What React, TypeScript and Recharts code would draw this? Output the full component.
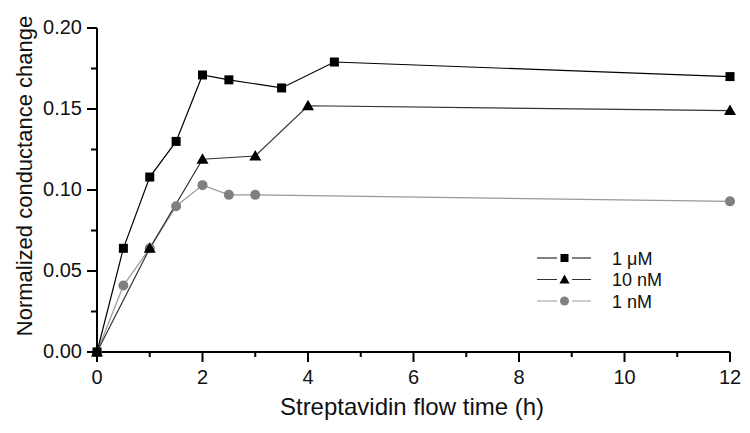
import { LineChart, Line, XAxis, YAxis } from 'recharts';

const uM1 = [
  { t: 0, v: 0 }, { t: 0.5, v: 0.064 }, { t: 1, v: 0.108 }, { t: 1.5, v: 0.13 },
  { t: 2, v: 0.171 }, { t: 2.5, v: 0.168 }, { t: 3.5, v: 0.163 }, { t: 4.5, v: 0.179 },
  { t: 12, v: 0.17 },
];
const nM10 = [
  { t: 0, v: 0 }, { t: 1, v: 0.064 }, { t: 2, v: 0.119 }, { t: 3, v: 0.121 },
  { t: 4, v: 0.152 }, { t: 12, v: 0.149 },
];
const nM1 = [
  { t: 0, v: 0 }, { t: 0.5, v: 0.041 }, { t: 1, v: 0.064 }, { t: 1.5, v: 0.09 },
  { t: 2, v: 0.103 }, { t: 2.5, v: 0.097 }, { t: 3, v: 0.097 }, { t: 12, v: 0.093 },
];

const xTicks = [0, 1, 2, 3, 4, 5, 6, 7, 8, 9, 10, 11, 12];
const yTicks = [0, 0.025, 0.05, 0.075, 0.1, 0.125, 0.15, 0.175, 0.2];

const FONT = '"Liberation Sans", Arial, sans-serif';

const Square = (props: any) => {
  const { cx, cy, fill, index } = props;
  return <rect key={`s${index}`} x={cx - 4.5} y={cy - 4.5} width={9} height={9} fill={fill} />;
};
const Triangle = (props: any) => {
  const { cx, cy, fill, index } = props;
  return (
    <path key={`t${index}`} d={`M${cx},${cy - 6} L${cx + 6},${cy + 4.5} L${cx - 6},${cy + 4.5} Z`} fill={fill} />
  );
};
const Circle = (props: any) => {
  const { cx, cy, fill, index } = props;
  return <circle key={`c${index}`} cx={cx} cy={cy} r={5} fill={fill} />;
};

const XTick = (props: any) => {
  const { x, y, payload } = props;
  const major = payload.value % 2 === 0;
  return (
    <g>
      <line x1={x} x2={x} y1={y} y2={y + (major ? 10 : 5)} stroke="#000" strokeWidth={2} />
      {major && (
        <text x={x} y={y + 32} textAnchor="middle" fontSize={20} fontFamily={FONT} fill="#111">
          {payload.value}
        </text>
      )}
    </g>
  );
};

const YTick = (props: any) => {
  const { x, y, payload } = props;
  const i = Math.round(payload.value / 0.025);
  const major = i % 2 === 0;
  return (
    <g>
      <line x1={x} x2={x - (major ? 10 : 6)} y1={y} y2={y} stroke="#000" strokeWidth={2} />
      {major && (
        <text x={x - 15} y={y + 6} textAnchor="end" fontSize={20} fontFamily={FONT} fill="#111">
          {payload.value.toFixed(2)}
        </text>
      )}
    </g>
  );
};

const legendItems = [
  { name: '1 μM', color: '#000', marker: 'square', line: '#000' },
  { name: '10 nM', color: '#000', marker: 'triangle', line: '#333' },
  { name: '1 nM', color: '#808080', marker: 'circle', line: '#999' },
];

export default function App() {
  return (
    <div style={{ position: 'absolute', left: 0, top: 0, width: 750, height: 433, background: '#fff' }}>
      <LineChart width={750} height={433} margin={{ top: 28, right: 20, bottom: 0, left: 0 }}>
        <XAxis
          type="number"
          dataKey="t"
          domain={[0, 12]}
          ticks={xTicks}
          interval={0}
          height={81}
          tickSize={0}
          tickMargin={0}
          tickLine={false}
          tick={<XTick />}
          axisLine={{ stroke: '#000', strokeWidth: 2 }}
          allowDuplicatedCategory={false}
        />
        <YAxis
          type="number"
          dataKey="v"
          domain={[0, 0.2]}
          ticks={yTicks}
          interval={0}
          width={97}
          tickSize={0}
          tickMargin={0}
          tickLine={false}
          tick={<YTick />}
          axisLine={{ stroke: '#000', strokeWidth: 2 }}
        />
        <Line data={nM1} dataKey="v" stroke="#999" strokeWidth={1.2} fill="#808080" dot={<Circle />} isAnimationActive={false} />
        <Line data={nM10} dataKey="v" stroke="#333" strokeWidth={1.2} fill="#000" dot={<Triangle />} isAnimationActive={false} />
        <Line data={uM1} dataKey="v" stroke="#000" strokeWidth={1.2} fill="#000" dot={<Square />} isAnimationActive={false} />
      </LineChart>
      <svg style={{ position: 'absolute', left: 0, top: 0, pointerEvents: 'none' }} width={750} height={433}>
        <g transform="translate(537,258)">
          {legendItems.map((it, i) => {
            const y = i * 21.5;
            return (
              <g key={it.name}>
                <line x1={0} x2={20} y1={y} y2={y} stroke={it.line} strokeWidth={1} />
                <line x1={35} x2={54} y1={y} y2={y} stroke={it.line} strokeWidth={1} />
                {it.marker === 'square' && <rect x={23.5} y={y - 4} width={8} height={8} fill={it.color} />}
                {it.marker === 'triangle' && (
                  <path d={`M27.5,${y - 5} L32.5,${y + 4} L22.5,${y + 4} Z`} fill={it.color} />
                )}
                {it.marker === 'circle' && <circle cx={27.5} cy={y} r={4.5} fill={it.color} />}
                <text x={75} y={y + 6.5} fontSize={18} fontFamily={FONT} fill="#111">
                  {it.name}
                </text>
              </g>
            );
          })}
        </g>
        <text x={412} y={415} textAnchor="middle" fontSize={24} fontFamily={FONT} fill="#111">
          Streptavidin flow time (h)
        </text>
        <text
          x={0}
          y={0}
          transform="translate(32,176) rotate(-90)"
          textAnchor="middle"
          fontSize={22}
          fontFamily={FONT}
          fill="#111"
        >
          Normalized conductance change
        </text>
      </svg>
    </div>
  );
}
